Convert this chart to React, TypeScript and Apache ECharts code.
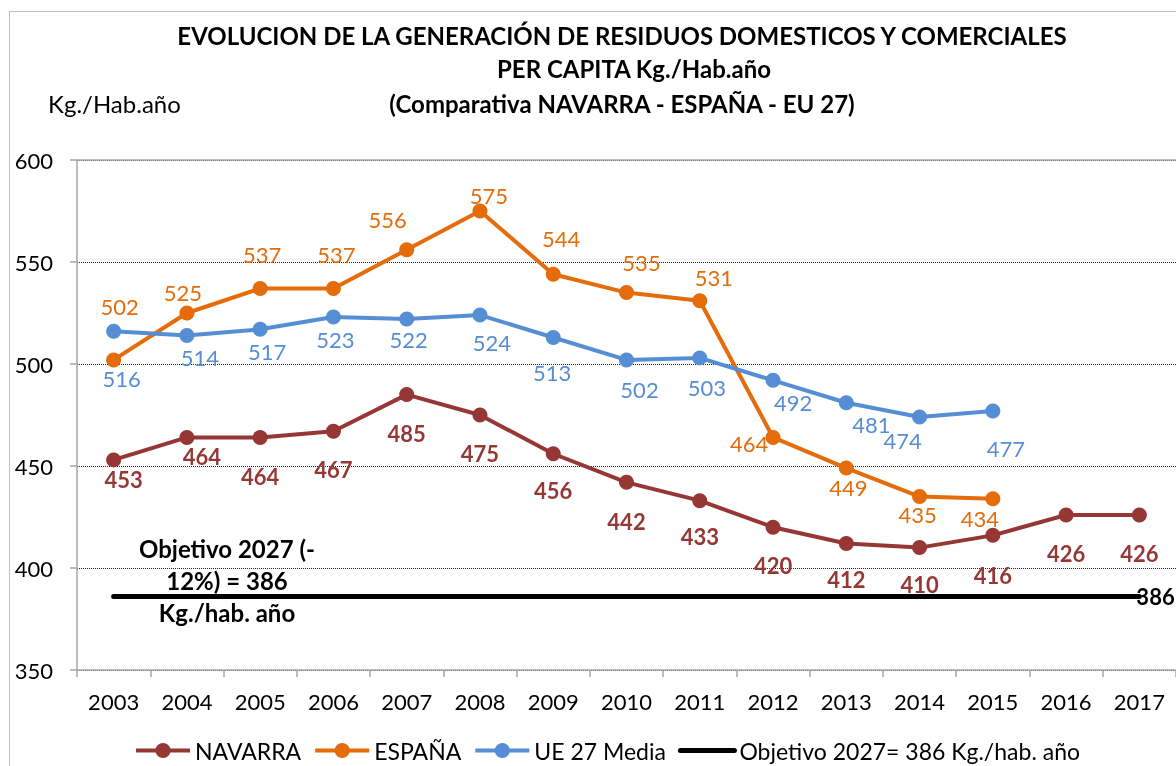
import React, { useEffect, useRef } from "react";
import * as echarts from "echarts";

const years = ["2003", "2004", "2005", "2006", "2007", "2008", "2009", "2010", "2011", "2012", "2013", "2014", "2015", "2016", "2017"];
const navarra = [453, 464, 464, 467, 485, 475, 456, 442, 433, 420, 412, 410, 416, 426, 426];
const espana = [502, 525, 537, 537, 556, 575, 544, 535, 531, 464, 449, 435, 434];
const ue27 = [516, 514, 517, 523, 522, 524, 513, 502, 503, 492, 481, 474, 477];
const objetivo = [386, 386, 386, 386, 386, 386, 386, 386, 386, 386, 386, 386, 386, 386, 386];

const titleLines = [
  "EVOLUCION DE LA GENERACIÓN DE RESIDUOS DOMESTICOS Y COMERCIALES",
  "PER CAPITA Kg./Hab.año",
  "(Comparativa NAVARRA - ESPAÑA - EU 27)",
];
const unitLabel = "Kg./Hab.año";
const noteLines = ["Objetivo 2027 (-", "12%) = 386", "Kg./hab. año"];
const seriesNames = ["NAVARRA", "ESPAÑA", "UE 27 Media", "Objetivo 2027= 386 Kg./hab. año"];

// label placement (pixel shifts from each marker), as in the reference
const navShift = [[10, 20], [15, 19], [0, 39], [0, 38], [0, 39], [0, 38], [0, 37], [0, 39], [0, 36], [0, 38], [0, 36], [0, 37], [0, 40], [0, 39], [0, 39]];
const espShift = [[6, -53], [-4, -21], [2, -34], [3, -34], [-19, -30], [9, -16], [8, -36], [15, -30], [14, -23], [-24, 6], [2, 19], [-2, 18], [-13, 20]];
const ueShift = [[8, 47], [13, 22], [7, 22], [2, 22], [2, 20], [12, 27], [-1, 35], [13, 30], [7, 30], [20, 22], [25, 22], [-17, 23], [13, 38]];

const FONT = "Lato";
const C_NAV = "#953735";
const C_ESP = "#E46C0A";
const C_UE = "#558ED5";

function withLabels(values: number[], shifts: number[][]) {
  return values.map((v, i) => ({
    value: v,
    label: { offset: shifts[i] },
  }));
}

export default function App() {
  const ref = useRef<HTMLDivElement>(null);
  useEffect(() => {
    if (!ref.current) return;
    const chart = echarts.init(ref.current, undefined, { renderer: "svg" });
    const lineSeries = (name: string, color: string, values: number[], shifts: number[][], bold: boolean) => ({
      name,
      type: "line",
      data: withLabels(values, shifts),
      symbol: "circle",
      symbolSize: 15,
      itemStyle: { color },
      lineStyle: { color, width: 4 },
      label: {
        show: true,
        position: "inside",
        color,
        fontFamily: FONT,
        fontSize: 22,
        fontWeight: bold ? "bold" : "normal",
        textBorderWidth: 0,
      },
    });
    chart.setOption({
      animation: false,
      textStyle: { fontFamily: FONT },
      grid: { left: 77, top: 160, width: 1101, height: 510, containLabel: false },
      xAxis: [
        {
          type: "category",
          data: years,
          boundaryGap: true,
          axisLine: { lineStyle: { color: "#A6A6A6", width: 1.5 } },
          axisTick: { show: true, length: 7, lineStyle: { color: "#A6A6A6", width: 1.5 } },
          axisLabel: { color: "#000", fontFamily: FONT, fontSize: 22, margin: 20 },
        },
        {
          type: "category",
          data: years,
          position: "top",
          axisLine: { lineStyle: { color: "#A6A6A6", width: 1.5 } },
          axisTick: { show: false },
          axisLabel: { show: false },
        },
      ],
      yAxis: {
        type: "value",
        min: 350,
        max: 600,
        interval: 50,
        axisLine: { show: true, lineStyle: { color: "#A6A6A6", width: 1.5 } },
        axisTick: { show: true, length: 7, lineStyle: { color: "#A6A6A6", width: 1.5 } },
        axisLabel: { color: "#000", fontFamily: FONT, fontSize: 22, margin: 24 },
        splitLine: { show: true, lineStyle: { color: "#222", type: "dotted", width: 1 } },
      },
      legend: {
        left: 129,
        top: 734,
        itemWidth: 54,
        itemHeight: 19,
        itemGap: 12,
        lineStyle: { width: 4 },
        textStyle: { color: "#000", fontFamily: FONT, fontSize: 23 },
        data: [
          { name: seriesNames[0] },
          { name: seriesNames[1] },
          { name: seriesNames[2] },
          { name: seriesNames[3], itemStyle: { color: "rgba(0,0,0,0)", borderWidth: 0 }, lineStyle: { width: 5, color: "#000" } },
        ],
      },
      graphic: [
        {
          type: "rect",
          silent: true,
          shape: { x: 9.5, y: 11.5, width: 1250, height: 850 },
          style: { fill: "none", stroke: "#808080", lineWidth: 1, lineDash: [1, 1] },
        },
        ...titleLines.map((t, i) => ({
          type: "text",
          x: i === 1 ? 634 : 622,
          y: [35, 68, 103][i],
          style: {
            text: t,
            fontFamily: FONT,
            fontSize: 24,
            fontWeight: "bold",
            fill: "#000",
            textAlign: "center",
            textVerticalAlign: "middle",
          },
        })),
        {
          type: "text",
          x: 48,
          y: 103,
          style: { text: unitLabel, fontFamily: FONT, fontSize: 24, fill: "#000", textAlign: "left", textVerticalAlign: "middle" },
        },
        ...noteLines.map((t, i) => ({
          type: "text",
          x: 227,
          y: 548 + i * 32,
          z: 100,
          style: {
            text: t,
            fontFamily: FONT,
            fontSize: 24,
            fontWeight: "bold",
            fill: "#000",
            textAlign: "center",
            textVerticalAlign: "middle",
          },
        })),
      ],
      series: [
        lineSeries(seriesNames[0], C_NAV, navarra, navShift, true),
        lineSeries(seriesNames[1], C_ESP, espana, espShift, false),
        lineSeries(seriesNames[2], C_UE, ue27, ueShift, false),
        {
          name: seriesNames[3],
          type: "line",
          data: objetivo,
          symbol: "none",
          showSymbol: false,
          itemStyle: { color: "#000" },
          lineStyle: { color: "#000", width: 5, cap: "round" },
          endLabel: {
            show: true,
            formatter: "386",
            distance: -3,
            color: "#000",
            fontFamily: FONT,
            fontSize: 22,
            fontWeight: "bold",
          },
        },
      ],
    });
    return () => chart.dispose();
  }, []);
  return <div ref={ref} style={{ position: "fixed", left: 0, top: 0, width: 1176, height: 766 }} />;
}
